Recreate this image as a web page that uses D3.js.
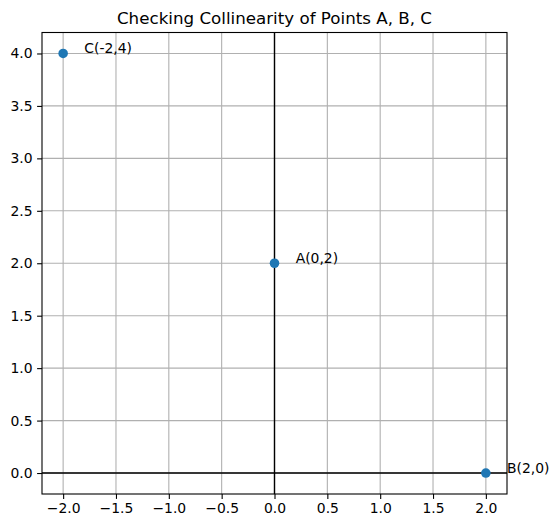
<!DOCTYPE html>
<html><head><meta charset="utf-8">
<script src="https://cdn.jsdelivr.net/npm/d3@7/dist/d3.min.js"></script>
<style>body{margin:0;background:#fff}</style>
</head><body>
<svg id="c" width="559" height="528"></svg>
<script>
const labels = ["A(0,2)", "B(2,0)", "C(-2,4)"];
const xs = [0, 2, -2];
const ys = [2, 0, 4];
const xTicks = [-2.0, -1.5, -1.0, -0.5, 0.0, 0.5, 1.0, 1.5, 2.0];
const yTicks = [0.0, 0.5, 1.0, 1.5, 2.0, 2.5, 3.0, 3.5, 4.0];
const title = "Checking Collinearity of Points A, B, C";

const svg = d3.select("#c");
const L = 42, R = 507, T = 32.5, B = 494;
const x = d3.scaleLinear().domain([-2.2, 2.2]).range([L, R]);
const y = d3.scaleLinear().domain([-0.2, 4.2]).range([B, T]);
const font = "DejaVu Sans, sans-serif";
const fmt = v => d3.format(".1f")(v).replace("-", "\u2212");

// grid
const g = svg.append("g");
g.selectAll("line.gx").data(xTicks).join("line")
  .attr("x1", d => x(d)).attr("x2", d => x(d)).attr("y1", T).attr("y2", B)
  .attr("stroke", "#b0b0b0").attr("stroke-width", 1.1);
g.selectAll("line.gy").data(yTicks).join("line")
  .attr("y1", d => y(d)).attr("y2", d => y(d)).attr("x1", L).attr("x2", R)
  .attr("stroke", "#b0b0b0").attr("stroke-width", 1.1);

// axis lines at 0
svg.append("line").attr("x1", L).attr("x2", R).attr("y1", y(0)).attr("y2", y(0))
  .attr("stroke", "#000").attr("stroke-width", 1.4);
svg.append("line").attr("x1", x(0)).attr("x2", x(0)).attr("y1", T).attr("y2", B)
  .attr("stroke", "#000").attr("stroke-width", 1.4);

// axes
const xa = svg.append("g").attr("transform", `translate(0,${B})`)
  .call(d3.axisBottom(x).tickValues(xTicks).tickFormat(fmt).tickSize(4.9).tickPadding(4.5));
const ya = svg.append("g").attr("transform", `translate(${L},0)`)
  .call(d3.axisLeft(y).tickValues(yTicks).tickFormat(fmt).tickSize(4.9).tickPadding(4.5));
[xa, ya].forEach(a => {
  a.select(".domain").remove();
  a.selectAll("line").attr("stroke", "#000").attr("stroke-width", 1.1);
  a.selectAll("text").attr("font-family", font).attr("font-size", 13.9).attr("fill", "#000");
});

// frame
svg.append("rect").attr("x", L).attr("y", T).attr("width", R - L).attr("height", B - T)
  .attr("fill", "none").attr("stroke", "#000").attr("stroke-width", 1.1);

// points
svg.selectAll("circle").data(xs).join("circle")
  .attr("cx", (d, i) => x(xs[i])).attr("cy", (d, i) => y(ys[i])).attr("r", 4.8)
  .attr("fill", "#1f77b4");
svg.selectAll("text.lab").data(labels).join("text").attr("class", "lab")
  .attr("x", (d, i) => x(xs[i] + 0.2)).attr("y", (d, i) => y(ys[i]))
  .attr("font-family", font).attr("font-size", 13.9).attr("fill", "#000")
  .text(d => d);

// title
svg.append("text").attr("x", (L + R) / 2).attr("y", 24.2).attr("text-anchor", "middle")
  .attr("font-family", font).attr("font-size", 16.7).attr("fill", "#000").text(title);
</script>
</body></html>
